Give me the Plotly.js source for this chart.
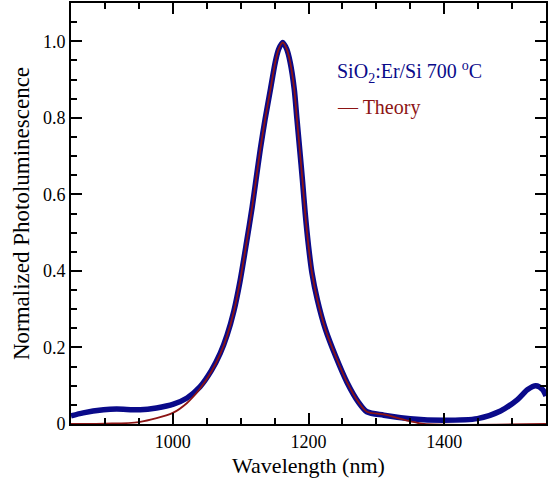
<!DOCTYPE html>
<html>
<head>
<meta charset="utf-8">
<script src="https://cdn.plot.ly/plotly-3.0.1.min.js"></script>
<style>
html,body{margin:0;padding:0;background:#fff;}
#chart{width:555px;height:478px;}
</style>
</head>
<body>
<div id="chart"></div>
<script>
// Measured PL data (SiO2:Er/Si 700 °C)
const dataWavelength = [850, 868, 898, 917, 952, 976, 1001, 1021, 1040, 1057, 1070, 1080, 1090, 1099, 1109, 1117, 1122, 1129, 1136, 1144, 1151, 1156, 1162, 1168, 1173, 1179, 1183, 1187, 1191, 1195, 1200, 1205, 1213, 1225, 1240, 1257, 1274, 1286, 1311, 1350, 1399, 1449, 1483, 1508, 1523, 1535, 1545, 1550];
const dataPL = [0.021, 0.029, 0.037, 0.039, 0.037, 0.042, 0.052, 0.068, 0.097, 0.140, 0.185, 0.232, 0.295, 0.372, 0.478, 0.567, 0.630, 0.718, 0.796, 0.875, 0.945, 0.979, 0.997, 0.979, 0.945, 0.875, 0.796, 0.718, 0.639, 0.553, 0.465, 0.396, 0.325, 0.247, 0.177, 0.108, 0.056, 0.032, 0.023, 0.014, 0.010, 0.014, 0.034, 0.064, 0.090, 0.100, 0.090, 0.073];

// Theory curve
const theoryWavelength = [850, 900, 950, 1000, 1021, 1040, 1057, 1070, 1080, 1090, 1099, 1109, 1117, 1122, 1129, 1136, 1144, 1151, 1156, 1162, 1168, 1173, 1179, 1183, 1187, 1191, 1195, 1200, 1205, 1213, 1225, 1240, 1257, 1274, 1286, 1311, 1350, 1370, 1550];
const theoryPL = [0.000, 0.001, 0.005, 0.029, 0.055, 0.092, 0.137, 0.183, 0.230, 0.294, 0.372, 0.478, 0.567, 0.630, 0.718, 0.796, 0.875, 0.945, 0.979, 0.997, 0.979, 0.945, 0.875, 0.796, 0.718, 0.639, 0.553, 0.465, 0.396, 0.325, 0.247, 0.177, 0.108, 0.056, 0.032, 0.025, 0.007, 0.000, 0.000];

const yTickVals = [0, 0.2, 0.4, 0.6, 0.8, 1.0];
const yTickText = ["0", "0.2", "0.4", "0.6", "0.8", "1.0"];
const xTickVals = [1000, 1200, 1400];

const navy = '#0a0a8a';
const darkred = '#8c1414';
const font = 'Liberation Serif';

const traces = [
  {x: dataWavelength, y: dataPL, type: 'scatter', mode: 'lines', line: {color: navy, width: 5.5, shape: 'spline', smoothing: 0.8}, showlegend: false},
  {x: theoryWavelength, y: theoryPL, type: 'scatter', mode: 'lines', line: {color: darkred, width: 1.8, shape: 'spline', smoothing: 0.8}, showlegend: false}
];

const axisCommon = {
  showline: true, linecolor: '#000', linewidth: 2, mirror: 'ticks',
  ticks: 'inside', tickcolor: '#000', tickwidth: 2, ticklen: 11,
  showgrid: false, zeroline: false,
  tickfont: {family: font, size: 18, color: '#000'}
};

const layout = {
  width: 555, height: 478,
  margin: {l: 71, r: 9, t: 3, b: 54},
  paper_bgcolor: '#fff', plot_bgcolor: '#fff',
  font: {family: font},
  xaxis: Object.assign({}, axisCommon, {
    range: [850, 1550], tickvals: xTickVals, ticktext: xTickVals.map(String),
    minor: {dtick: 50, tick0: 850, ticks: 'inside', ticklen: 6, tickwidth: 2, tickcolor: '#000', showgrid: false},
    title: {text: 'Wavelength (nm)', font: {family: font, size: 22, color: '#000'}, standoff: 7}
  }),
  yaxis: Object.assign({}, axisCommon, {
    range: [0, 1.1], tickvals: yTickVals, ticktext: yTickText,
    minor: {dtick: 0.05, tick0: 0, ticks: 'inside', ticklen: 6, tickwidth: 2, tickcolor: '#000', showgrid: false},
    title: {text: 'Normalized Photoluminescence', font: {family: font, size: 23, color: '#000'}, standoff: 7}
  }),
  annotations: [
    {xref: 'paper', yref: 'paper', x: 0.555, y: 0.835, xanchor: 'left', yanchor: 'middle', showarrow: false,
     text: 'SiO<sub>2</sub>:Er/Si 700 <sup>o</sup>C', font: {family: font, size: 20, color: navy}},
    {xref: 'paper', yref: 'paper', x: 0.555, y: 0.752, xanchor: 'left', yanchor: 'middle', showarrow: false,
     text: '— Theory', font: {family: font, size: 20, color: darkred}}
  ]
};

Plotly.newPlot('chart', traces, layout, {displayModeBar: false, staticPlot: true});
</script>
</body>
</html>
